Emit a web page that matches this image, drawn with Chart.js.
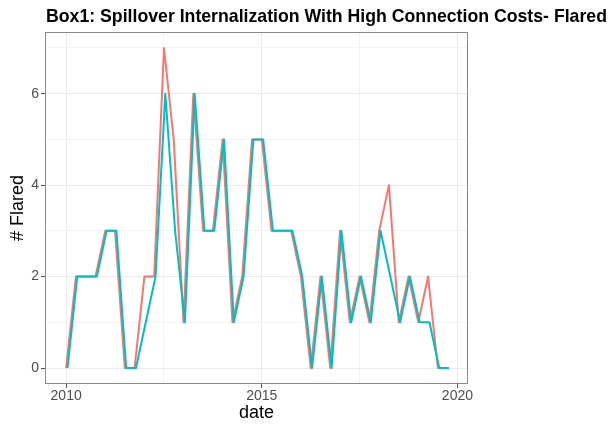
<!DOCTYPE html>
<html>
<head>
<meta charset="utf-8">
<script src="https://cdn.jsdelivr.net/npm/chart.js@4.4.1/dist/chart.umd.min.js"></script>
<style>
    body { margin: 0; background: #fff; }
    #wrap { position: relative; width: 610px; height: 426px; }
    #title {
        position: absolute; left: 46px; top: 6px;
        font: bold 17.7px "Liberation Sans", Arial, sans-serif;
        color: #000; white-space: nowrap;
    }
</style>
</head>
<body>
<div id="wrap">
    <div id="title">Box1: Spillover Internalization With High Connection Costs- Flared</div>
    <canvas id="flaredChart" width="610" height="426"></canvas>
</div>
<script>
// quarterly observation dates (decimal years)
const quarters = [
    2010, 2010.25, 2010.5, 2010.75,
    2011, 2011.25, 2011.5, 2011.75,
    2012, 2012.25, 2012.5, 2012.75,
    2013, 2013.25, 2013.5, 2013.75,
    2014, 2014.25, 2014.5, 2014.75,
    2015, 2015.25, 2015.5, 2015.75,
    2016, 2016.25, 2016.5, 2016.75,
    2017, 2017.25, 2017.5, 2017.75,
    2018, 2018.25, 2018.5, 2018.75,
    2019, 2019.25, 2019.5, 2019.75
];
// the second series is recorded about two weeks later in each quarter
const cyanLag = 0.035;

const redFlared = [
    0, 2, 2, 2,
    3, 3, 0, 0,
    2, 2, 7, 5,
    1, 6, 3, 3,
    5, 1, 2, 5,
    5, 3, 3, 3,
    2, 0, 2, 0,
    3, 1, 2, 1,
    3, 4, 1, 2,
    1, 2, 0, 0
];
const cyanFlared = [
    0, 2, 2, 2,
    3, 3, 0, 0,
    1, 2, 6, 3,
    1, 6, 3, 3,
    5, 1, 2, 5,
    5, 3, 3, 3,
    2, 0, 2, 0,
    3, 1, 2, 1,
    3, 2, 1, 2,
    1, 1, 0, 0
];

const xTicks = [2010, 2012.5, 2015, 2017.5, 2020];
const yTicks = [0, 1, 2, 3, 4, 5, 6, 7];

const isMajorX = v => v % 5 === 0;
const isMajorY = v => v % 2 === 0;

const panelBorder = {
    id: 'panelBorder',
    afterDraw(chart) {
        const { ctx, chartArea: a } = chart;
        ctx.save();
        ctx.strokeStyle = '#8a8a8a';
        ctx.lineWidth = 1;
        ctx.strokeRect(a.left + 0.5, a.top + 0.5, a.right - a.left - 1, a.bottom - a.top - 1);
        ctx.restore();
    }
};

const ctx = document.getElementById('flaredChart').getContext('2d');

new Chart(ctx, {
    type: 'line',
    data: {
        datasets: [{
            label: 'red',
            data: quarters.map((q, i) => ({ x: q, y: redFlared[i] })),
            borderColor: '#F8766D',
            borderWidth: 2,
            borderJoinStyle: 'round',
            pointRadius: 0,
            tension: 0,
            order: 2
        }, {
            label: 'cyan',
            data: quarters.map((q, i) => ({ x: q + cyanLag, y: cyanFlared[i] })),
            borderColor: '#00BFC4',
            borderWidth: 2,
            borderJoinStyle: 'round',
            pointRadius: 0,
            tension: 0,
            order: 1
        }]
    },
    options: {
        responsive: false,
        animation: false,
        layout: {
            padding: { top: 32, right: 142, bottom: 0, left: 0 }
        },
        plugins: {
            legend: { display: false },
            tooltip: { enabled: false }
        },
        scales: {
            x: {
                type: 'linear',
                min: 2009.46,
                max: 2020.27,
                afterBuildTicks: scale => { scale.ticks = xTicks.map(v => ({ value: v })); },
                afterFit: scale => { scale.height = 42; },
                border: { display: false },
                grid: {
                    color: c => isMajorX(c.tick.value) ? '#EBEBEB' : '#F4F4F4',
                    lineWidth: 1,
                    tickLength: 4,
                    tickColor: c => isMajorX(c.tick.value) ? '#555555' : 'rgba(0,0,0,0)'
                },
                ticks: {
                    autoSkip: false,
                    maxRotation: 0,
                    padding: 0,
                    color: '#4D4D4D',
                    font: { family: 'Liberation Sans', size: 14 },
                    callback: v => isMajorX(v) ? String(v) : ''
                },
                title: {
                    display: true,
                    text: 'date',
                    color: '#000',
                    font: { family: 'Liberation Sans', size: 18 },
                    padding: { top: 0, bottom: 2 }
                }
            },
            y: {
                min: -0.35,
                max: 7.35,
                afterBuildTicks: scale => { scale.ticks = yTicks.map(v => ({ value: v })); },
                afterFit: scale => { scale.width = 45; },
                border: { display: false },
                grid: {
                    color: c => isMajorY(c.tick.value) ? '#EBEBEB' : '#F4F4F4',
                    lineWidth: 1,
                    tickLength: 4,
                    tickColor: c => isMajorY(c.tick.value) ? '#555555' : 'rgba(0,0,0,0)'
                },
                ticks: {
                    padding: 2,
                    color: '#4D4D4D',
                    font: { family: 'Liberation Sans', size: 14 },
                    callback: v => isMajorY(v) ? String(v) : ''
                },
                title: {
                    display: true,
                    text: '# Flared',
                    color: '#000',
                    font: { family: 'Liberation Sans', size: 18 },
                    padding: { top: 7, bottom: 0 }
                }
            }
        }
    },
    plugins: [panelBorder]
});
</script>
</body>
</html>
